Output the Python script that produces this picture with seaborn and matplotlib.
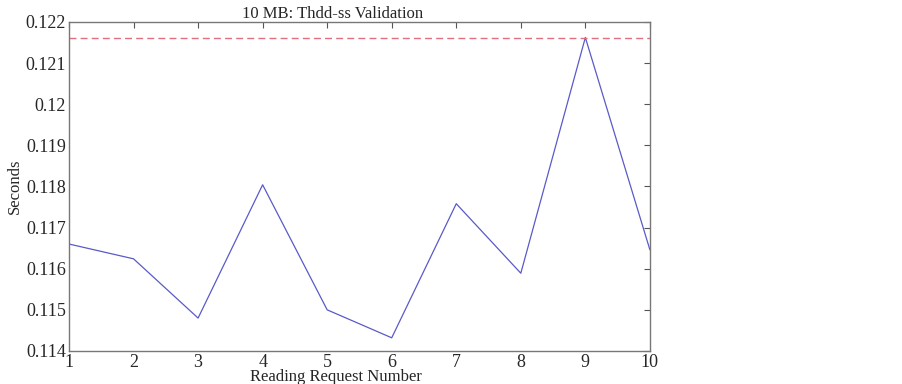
import numpy as np
import pandas as pd
import matplotlib
matplotlib.use("Agg")
import matplotlib.pyplot as plt
import seaborn as sns

# --- data ---
requests = [1, 2, 3, 4, 5, 6, 7, 8, 9, 10]
seconds = [0.11660, 0.11624, 0.11480, 0.11804, 0.11500, 0.11432,
           0.11758, 0.11589, 0.12162, 0.11646]
threshold = 0.12162
x_ticks = [1, 2, 3, 4, 5, 6, 7, 8, 9, 10]
y_ticks = [0.114, 0.115, 0.116, 0.117, 0.118, 0.119, 0.120, 0.121, 0.122]
y_tick_labels = ["0.114", "0.115", "0.116", "0.117", "0.118", "0.119", "0.12", "0.121", "0.122"]

df = pd.DataFrame({"Request": requests, "Seconds": seconds})

sns.set_style("white")
plt.rcParams['font.family'] = ['Liberation Serif', 'DejaVu Serif']

fig = plt.figure(figsize=(9.02, 3.84), dpi=100)
ax = fig.add_axes([0.0765, 0.086, 0.644, 0.857])

sns.lineplot(data=df, x="Request", y="Seconds", ax=ax, color="#5a5ac8", linewidth=0.9)
ax.axhline(threshold, color="#e07080", linestyle=(0, (5, 3)), linewidth=1.0)

ax.set_xlim(1, 10)
ax.set_ylim(0.114, 0.122)
ax.set_xticks(x_ticks)
ax.set_xticklabels([str(t) for t in x_ticks])
ax.set_yticks(y_ticks)
ax.set_yticklabels(y_tick_labels)

ax.tick_params(direction="in", length=4, width=0.8, color="#555555",
               top=True, right=True, labelsize=13, pad=2)
for s in ax.spines.values():
    s.set_color("#777777")
    s.set_linewidth(1.0)

ax.set_title("10 MB: Thdd-ss Validation", fontsize=12, x=0.453, pad=3)
ax.set_xlabel("Reading Request Number", fontsize=12, labelpad=-2)
ax.xaxis.set_label_coords(0.46, -0.055)
ax.set_ylabel("Seconds", fontsize=12, labelpad=2)

fig.savefig("out.png", dpi=100)
